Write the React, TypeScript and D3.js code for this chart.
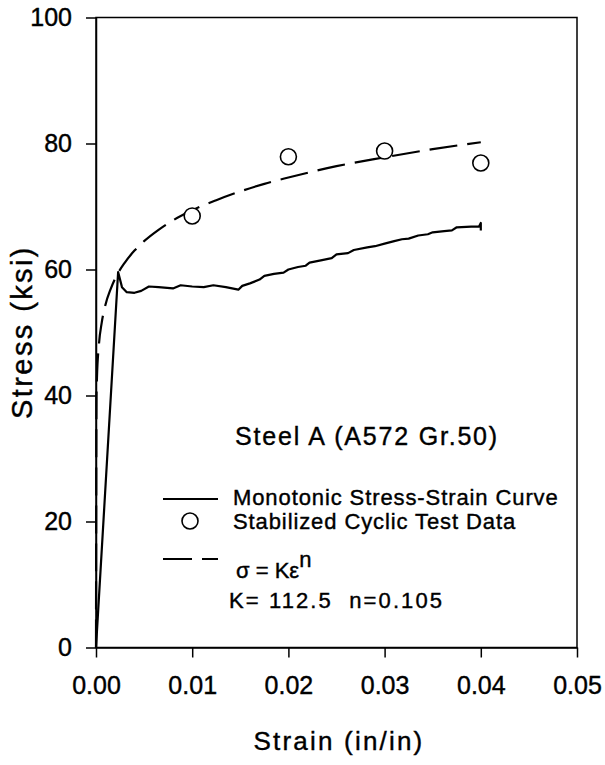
import React, { useEffect, useRef } from "react";
import * as d3 from "d3";

const strainTicks = [0, 0.01, 0.02, 0.03, 0.04, 0.05];
const stressTicks = [0, 20, 40, 60, 80, 100];

// monotonic test trace
const monotonicStrain = [
  0, 0.0023, 0.0027, 0.0032, 0.004, 0.0047, 0.0055, 0.0065, 0.008, 0.0088,
  0.01, 0.0112, 0.0122, 0.0135, 0.0148, 0.0152, 0.016, 0.017, 0.0175, 0.0185,
  0.0195, 0.02, 0.021, 0.0218, 0.0222, 0.0235, 0.0245, 0.025, 0.0262, 0.0268,
  0.0282, 0.029, 0.03, 0.031, 0.0318, 0.0325, 0.0335, 0.0345, 0.035, 0.0362,
  0.037, 0.0375, 0.039, 0.0398, 0.04, 0.04,
];
const monotonicStress = [
  0, 59.6, 57.2, 56.4, 56.3, 56.6, 57.3, 57.2, 57.0, 57.5,
  57.3, 57.2, 57.5, 57.2, 56.8, 57.4, 57.8, 58.4, 59.0, 59.3,
  59.5, 60.0, 60.4, 60.6, 61.1, 61.5, 61.8, 62.4, 62.6, 63.1,
  63.5, 63.7, 64.1, 64.5, 64.8, 64.9, 65.4, 65.6, 65.9, 66.1,
  66.2, 66.7, 66.8, 66.8, 67.4, 66.2,
];

// stabilized cyclic test points
const cyclicStrain = [0.01, 0.02, 0.03, 0.04];
const cyclicStress = [68.5, 77.9, 78.8, 76.9];

// dashed fit curve (sigma = K eps^n)
const fitStrain = [
  0, 0.00005, 0.0001, 0.0003, 0.0006, 0.001, 0.0015, 0.002, 0.003, 0.004,
  0.005, 0.0065, 0.008, 0.01, 0.0125, 0.015, 0.0175, 0.02, 0.025, 0.03,
  0.035, 0.04,
];
const fitStress = [
  0, 39.8, 42.8, 48.0, 51.6, 54.5, 56.8, 58.6, 61.1, 63.0,
  64.5, 66.3, 67.8, 69.4, 71.0, 72.4, 73.6, 74.6, 76.4, 77.8,
  79.1, 80.2,
];

const legendLabels = [
  "Monotonic Stress-Strain Curve",
  "Stabilized Cyclic Test Data",
];

const FONT = "'Liberation Sans', Arial, sans-serif";

const App = () => {
  const ref = useRef<SVGSVGElement>(null);

  useEffect(() => {
    const svg = d3.select(ref.current);
    svg.selectAll("*").remove();

    const x = d3.scaleLinear().domain([0, 0.05]).range([96, 577]);
    const y = d3.scaleLinear().domain([0, 100]).range([647.5, 17.5]);

    const g = svg.append("g");

    // frame (top + right)
    g.append("rect")
      .attr("x", x(0))
      .attr("y", y(100))
      .attr("width", x(0.05) - x(0))
      .attr("height", y(0) - y(100))
      .attr("fill", "none")
      .attr("stroke", "#000")
      .attr("stroke-width", 1.5);

    const xAxis = g
      .append("g")
      .attr("transform", `translate(0,${y(0)})`)
      .call(
        d3
          .axisBottom(x)
          .tickValues(strainTicks)
          .tickFormat(d3.format(".2f"))
          .tickSize(10)
          .tickSizeOuter(0)
          .tickPadding(19)
      );

    const yAxis = g
      .append("g")
      .attr("transform", `translate(${x(0)},0)`)
      .call(
        d3
          .axisLeft(y)
          .tickValues(stressTicks)
          .tickFormat(d3.format("d"))
          .tickSize(10)
          .tickSizeOuter(0)
          .tickPadding(14)
      );

    [xAxis, yAxis].forEach((a) => {
      a.select(".domain").attr("stroke", "#000").attr("stroke-width", 1.5);
      a.selectAll(".tick line").attr("stroke", "#000").attr("stroke-width", 1.5);
      a.selectAll(".tick text")
        .attr("fill", "#000")
        .attr("stroke", "#000")
        .attr("stroke-width", 0.4)
        .style("font-family", FONT)
        .style("font-size", "25px");
    });

    // monotonic curve
    const mono = monotonicStrain.map((s, i) => [s, monotonicStress[i]] as [number, number]);
    g.append("path")
      .datum(mono)
      .attr("fill", "none")
      .attr("stroke", "#000")
      .attr("stroke-width", 2.2)
      .attr("stroke-linejoin", "round")
      .attr("d", d3.line<[number, number]>().x((d) => x(d[0])).y((d) => y(d[1])));

    // fit curve
    const fit = fitStrain.map((s, i) => [s, fitStress[i]] as [number, number]);
    g.append("path")
      .datum(fit)
      .attr("fill", "none")
      .attr("stroke", "#000")
      .attr("stroke-width", 2.2)
      .attr("stroke-dasharray", "28,10")
      .attr(
        "d",
        d3
          .line<[number, number]>()
          .x((d) => x(d[0]))
          .y((d) => y(d[1]))
          .curve(d3.curveMonotoneX)
      );

    // cyclic points
    g.selectAll("circle.pt")
      .data(cyclicStrain.map((s, i) => [s, cyclicStress[i]]))
      .join("circle")
      .attr("class", "pt")
      .attr("cx", (d) => x(d[0]))
      .attr("cy", (d) => y(d[1]))
      .attr("r", 8)
      .attr("fill", "#fff")
      .attr("stroke", "#000")
      .attr("stroke-width", 1.6);

    const txt = svg.append("g")
      .style("font-family", FONT)
      .attr("fill", "#000")
      .attr("stroke", "#000")
      .attr("stroke-width", 0.4);

    // axis titles
    txt.append("text")
      .attr("x", 339)
      .attr("y", 750)
      .attr("text-anchor", "middle")
      .style("font-size", "26px")
      .style("letter-spacing", "2.2px")
      .text("Strain (in/in)");

    txt.append("text")
      .attr("transform", "translate(32,332) rotate(-90)")
      .attr("text-anchor", "middle")
      .style("font-size", "29px")
      .style("letter-spacing", "2.4px")
      .text("Stress (ksi)");

    // annotation
    txt.append("text")
      .attr("x", 235)
      .attr("y", 445)
      .style("font-size", "25px")
      .style("letter-spacing", "1.8px")
      .text("Steel A (A572 Gr.50)");

    // legend
    const leg = txt.append("g").style("font-size", "22px");
    svg.append("line")
      .attr("x1", 163).attr("x2", 218).attr("y1", 499).attr("y2", 499)
      .attr("stroke", "#000").attr("stroke-width", 2);
    svg.append("circle")
      .attr("cx", 190).attr("cy", 521).attr("r", 8)
      .attr("fill", "#fff").attr("stroke", "#000").attr("stroke-width", 1.6);
    svg.append("line")
      .attr("x1", 163).attr("x2", 218).attr("y1", 559).attr("y2", 559)
      .attr("stroke", "#000").attr("stroke-width", 2)
      .attr("stroke-dasharray", "29,10");

    legendLabels.forEach((t, i) => {
      leg.append("text")
        .attr("x", 233)
        .attr("y", 505 + i * 24)
        .style("letter-spacing", "0.9px")
        .text(t);
    });

    const eq = leg.append("text").attr("x", 236).attr("y", 578);
    eq.append("tspan").text("σ = Kε");
    eq.append("tspan").attr("dy", -11).text("n");

    leg.append("text")
      .attr("x", 229)
      .attr("y", 608)
      .style("letter-spacing", "2.1px")
      .style("white-space", "pre")
      .text("K= 112.5  n=0.105");
  }, []);

  return (
    <svg
      ref={ref}
      width={605}
      height={765}
      style={{ position: "absolute", left: 0, top: 0, background: "#fff" }}
    />
  );
};

export default App;
